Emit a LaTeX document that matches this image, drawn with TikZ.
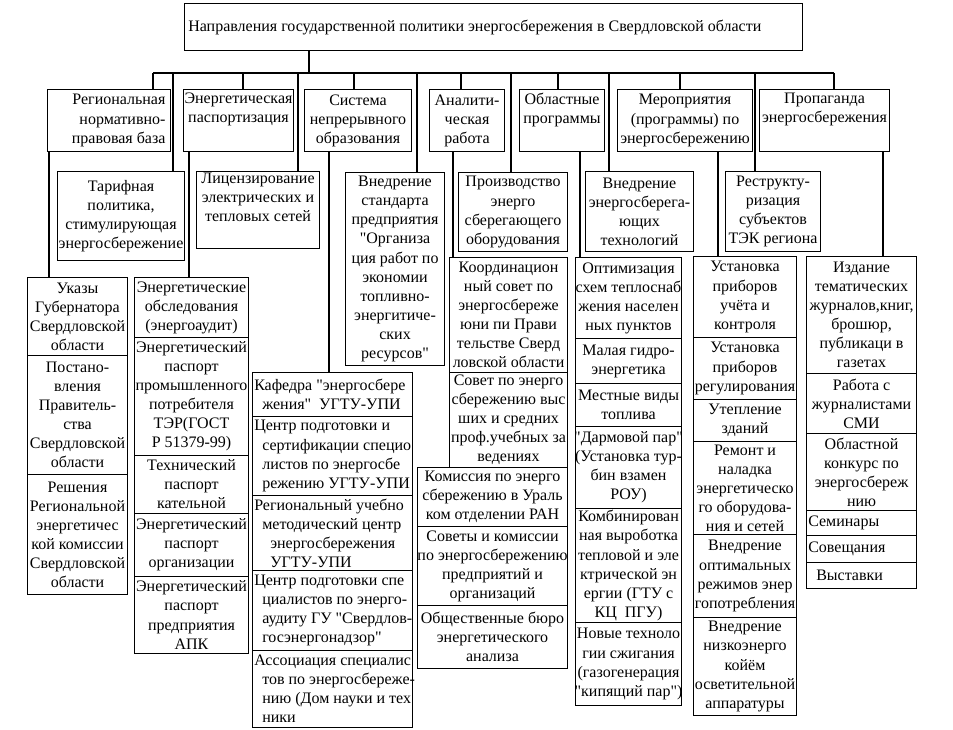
\documentclass[tikz,border=0pt]{standalone}
\usepackage{fontspec}
\setmainfont{Liberation Serif}[Ligatures=TeXOff]
\tikzset{
  boxst/.style={draw, line width=0.8pt, inner sep=0pt, anchor=north west},
  txtst/.style={inner sep=0pt, align=center, font=\fontsize{12}{14.3}\selectfont},
  ln/.style={line width=0.8pt},
}
% #1 opts, #2 anchor, #3 name, #4 x1, #5 y1, #6 x2, #7 y2, #8 text
\newcommand\cellg[8]{%
  \pgfmathsetmacro\cellw{(#6-#4)*0.75}%
  \pgfmathsetmacro\cellh{(#7-#5)*0.75}%
  \node[boxst, minimum width=\cellw pt, minimum height=\cellh pt] (#3) at (#4,#5) {};
  \node[txtst, anchor=#2, #1] (#3t) at (#3.#2) {#8};}
\newcommand\cellc[7][]{\cellg{#1}{center}{#2}{#3}{#4}{#5}{#6}{#7}}
\newcommand\celll[7][]{\cellg{align=left,xshift=1.5pt,#1}{west}{#2}{#3}{#4}{#5}{#6}{#7}}
\newcommand\cellr[7][]{\cellg{align=right,xshift=-4pt,#1}{east}{#2}{#3}{#4}{#5}{#6}{#7}}
\begin{document}
\begin{tikzpicture}[x=0.75pt,y=-0.75pt]
\useasboundingbox (0,0) rectangle (953,730);
% title
\celll[xshift=1.5pt]{title}{184}{3}{802}{50}{Направления государственной политики энергосбережения в Свердловской области}
% level 1
\cellr{r1}{47}{89}{170}{151}{Региональная\\нормативно-\\правовая база}
\cellc{r2}{183}{89}{293}{151}{Энергетическая\\паспортизация\\\strut}
\cellc{r3}{304}{89}{411}{151}{Система\\непрерывного\\образования}
\cellc{r4}{429}{89}{504}{151}{Аналити-\\ческая\\работа}
\cellc{r5}{519}{89}{604}{151}{Областные\\программы\\\strut}
\cellc{r6}{617}{89}{752}{151}{Мероприятия\\(программы) по\\энергосбережению}
\cellc{r7}{759}{89}{889}{151}{Пропаганда\\энергосбережения\\\strut}
% level 2
\cellc{tarif}{57}{171}{184}{260}{Тарифная\\политика,\\стимулирующая\\энергосбережение}
\cellc{lic}{196}{171}{319}{248}{Лицензирование\\электрических и\\тепловых сетей\\\strut}
\cellc{std}{345}{172}{444}{365}{Внедрение\\стандарта\\предприятия\\"Организа\\ция работ по\\экономии\\топливно-\\энергитиче-\\ских\\ресурсов"}
\cellc{prod}{458}{172}{567}{251}{Производство\\энерго\\сберегающего\\оборудования}
\cellc{vnedr}{585}{171}{693}{251}{Внедрение\\энергосберега-\\ющих\\технологий}
\cellc{restr}{725}{171}{820}{251}{Реструкту-\\ризация\\субъектов\\ТЭК региона}
% column A
\cellc{ukaz}{27}{277}{127}{355}{Указы\\Губернатора\\Свердловской\\области}
\cellc{post}{27}{355}{127}{474}{Постано-\\вления\\Правитель-\\ства\\Свердловской\\области}
\cellc{resh}{27}{474}{127}{594}{Решения\\Региональной\\энергетичес\\кой комиссии\\Свердловской\\области}
% column B
\cellc{eo}{134}{277}{248}{337}{Энергетические\\обследования\\(энергоаудит)}
\cellc{ep1}{134}{337}{248}{455}{Энергетический\\паспорт\\промышленного\\потребителя\\ТЭР(ГОСТ\\Р 51379-99)}
\cellc{tp}{134}{455}{248}{513}{Технический\\паспорт\\кательной}
\cellc{ep2}{134}{513}{248}{576}{Энергетический\\паспорт\\организации}
\cellc{ep3}{134}{576}{248}{653}{Энергетический\\паспорт\\предприятия\\АПК}
% column C
\celll{kaf}{252}{372}{412}{416}{Кафедра "энергосбере\\\ \ жения" \ УГТУ-УПИ}
\celll{cp1}{252}{416}{412}{495}{Центр подготовки и\\\ \ сертификации специо\\\ \ листов по энергосбе\\\ \ режению УГТУ-УПИ}
\celll{rum}{252}{495}{412}{570}{Региональный учебно\\\ \ методический центр\\\ \ \ \ энергосбережения\\\ \ \ \ УГТУ-УПИ}
\celll{cp2}{252}{570}{412}{650}{Центр подготовки спе\\\ \ циалистов по энерго-\\\ \ аудиту ГУ "Свердлов-\\\ \ госэнергонадзор"}
\celll{assoc}{252}{650}{412}{727}{Ассоциация специалис\\\ \ тов по энергосбереже-\\\ \ нию (Дом науки и тех\\\ \ ники}
% column D
\cellc{koord}{449}{257}{567}{372}{Координацион\\ный совет по\\энергосбереже\\юни пи Прави\\тельстве Сверд\\ловской области}
\cellc{sovet}{449}{372}{567}{467}{Совет по энерго\\сбережению выс\\ших и средних\\проф.учебных за\\ведениях}
\cellc{komis}{417}{467}{567}{526}{Комиссия по энерго\\сбережению в Ураль\\ком отделении РАН}
\cellc{sovk}{417}{526}{567}{605}{Советы и комиссии\\по энергосбережению\\предприятий и\\организаций}
\cellc{obsch}{417}{605}{567}{668}{Общественные бюро\\энергетического\\анализа}
% column E
\cellc{opt}{575}{257}{681}{338}{Оптимизация\\схем теплоснаб\\жения населен\\ных пунктов}
\cellc{mal}{575}{338}{681}{383}{Малая гидро-\\энергетика}
\cellc{mest}{575}{383}{681}{426}{Местные виды\\топлива}
\cellc{darm}{575}{426}{681}{508}{"Дармовой пар"\\(Установка тур-\\бин взамен\\РОУ)}
\cellc{komb}{575}{508}{681}{622}{Комбинирован\\ная выроботка\\тепловой и эле\\ктрической эн\\ергии (ГТУ с\\КЦ \ ПГУ)}
\cellc{nov}{575}{622}{681}{705}{Новые техноло\\гии сжигания\\(газогенерация\\"кипящий пар")}
% column F
\cellc{ust1}{693}{256}{796}{337}{Установка\\приборов\\учёта и\\контроля}
\cellc{ust2}{693}{337}{796}{399}{Установка\\приборов\\регулирования}
\cellc{utep}{693}{399}{796}{441}{Утепление\\зданий}
\cellc{rem}{693}{441}{796}{534}{Ремонт и\\наладка\\энергетическо\\го оборудова-\\ния и сетей}
\cellc{opt2}{693}{534}{796}{617}{Внедрение\\оптимальных\\режимов энер\\гопотребления}
\cellc{nizk}{693}{617}{796}{715}{Внедрение\\низкоэнерго\\койём\\осветительной\\аппаратуры}
% column G
\cellc{izd}{806}{256}{916}{373}{Издание\\тематических\\журналов,книг,\\брошюр,\\публикаци в\\газетах}
\cellc{rab}{806}{373}{916}{433}{Работа с\\журналистами\\СМИ}
\cellc{obl}{806}{433}{916}{510}{Областной\\конкурс по\\энергосбереж\\нию}
\celll{sem}{806}{510}{916}{535}{Семинары}
\celll{sov}{806}{535}{916}{562}{Совещания}
\celll[xshift=6pt]{vyst}{806}{562}{916}{588}{Выставки}
% connectors
\coordinate (busL) at (153,73);
\coordinate (busR) at (834,73);
\draw[ln] (title.south -| 309,0) -- (busL -| 309,0);
\draw[ln] (busL) -- (busR);
\draw[ln] (busL) -- (r1.north -| busL);
\draw[ln] (busL -| 173,0) -- (tarif.north -| 173,0);
\draw[ln] (busL -| 243,0) -- (r2.north -| 243,0);
\draw[ln] (busL -| 298,0) -- (lic.north -| 298,0);
\draw[ln] (busL -| 354,0) -- (r3.north -| 354,0);
\draw[ln] (busL -| 417,0) -- (std.north -| 417,0);
\draw[ln] (busL -| 461,0) -- (r4.north -| 461,0);
\draw[ln] (busL -| 511,0) -- (prod.north -| 511,0);
\draw[ln] (busL -| 558,0) -- (r5.north -| 558,0);
\draw[ln] (busL -| 609,0) -- (vnedr.north -| 609,0);
\draw[ln] (busL -| 680,0) -- (r6.north -| 680,0);
\draw[ln] (busL -| 755,0) -- (restr.north -| 755,0);
\draw[ln] (busR) -- (r7.north -| busR);
\draw[ln] (r1.south -| 49,0) -- (ukaz.north -| 49,0);
\draw[ln] (r2.south -| 189,0) -- (eo.north -| 189,0);
\draw[ln] (r3.south -| 329,0) -- (kaf.north -| 329,0);
\draw[ln] (r4.south -| 453,0) -- (koord.north -| 453,0);
\draw[ln] (r5.south -| 580,0) -- (opt.north -| 580,0);
\draw[ln] (r6.south -| 718,0) -- (ust1.north -| 718,0);
\draw[ln] (r7.south -| 883,0) -- (izd.north -| 883,0);
\end{tikzpicture}
\end{document}
